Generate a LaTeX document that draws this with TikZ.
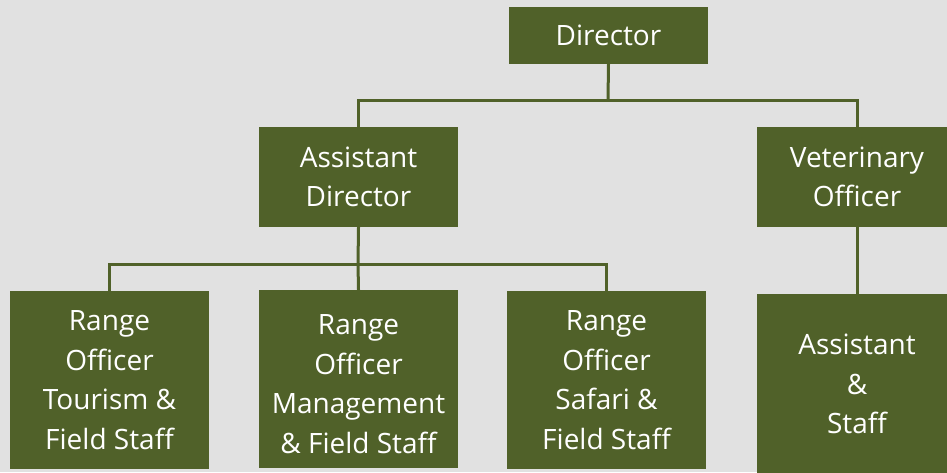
\documentclass[tikz,border=0pt]{standalone}
\usepackage{fontspec}
\setmainfont{Open Sans}
\definecolor{boxg}{HTML}{506129}
\definecolor{bgc}{HTML}{E1E1E1}
\begin{document}
\begin{tikzpicture}[x=1pt,y=-1pt,
  orgbox/.style={fill=boxg,draw=none,text=white,align=center,inner sep=0pt,
    font=\fontsize{28}{39.5}\selectfont},
  link/.style={draw=boxg,line width=3pt}]
\fill[bgc] (0,0) rectangle (947,472);
\useasboundingbox (0,0) rectangle (947,472);
\begin{scope}
\clip (0,0) rectangle (947,472);
\node[orgbox,minimum width=199pt,minimum height=57pt] (dir) at (608.5,35) {Director};
\node[orgbox,minimum width=199pt,minimum height=100pt] (ad) at (358.5,177) {Assistant\\Director};
\node[orgbox,minimum width=200pt,minimum height=100pt] (vet) at (857,177) {Veterinary\\Officer};
\node[orgbox,minimum width=199pt,minimum height=178pt] (rt) at (109.5,380) {Range\\Officer\\Tourism \&\\Field Staff};
\node[orgbox,minimum width=199pt,minimum height=178pt,text depth=0pt] (rm) at (358.5,379) {};
\node[orgbox] (rmt) at (358.5,384) {Range\\Officer\\Management\\\& Field Staff};
\node[orgbox,minimum width=199pt,minimum height=178pt] (rs) at (606.5,380) {Range\\Officer\\Safari \&\\Field Staff};
\node[orgbox,minimum width=200pt,minimum height=180pt] (as) at (857,384) {Assistant\\\&\\Staff};
\end{scope}
\coordinate (j1) at (608,100);
\coordinate (j2) at (358,264);
\draw[link] (dir.south) -- (j1);
\draw[link] (ad.north) |- (j1) -| (vet.north);
\draw[link] (ad.south) -- (j2);
\draw[link] (rt.north) |- (j2) -| (rs.north);
\draw[link] (j2) -- (rm.north);
\draw[link] (vet.south) -- (as.north);
\end{tikzpicture}
\end{document}
